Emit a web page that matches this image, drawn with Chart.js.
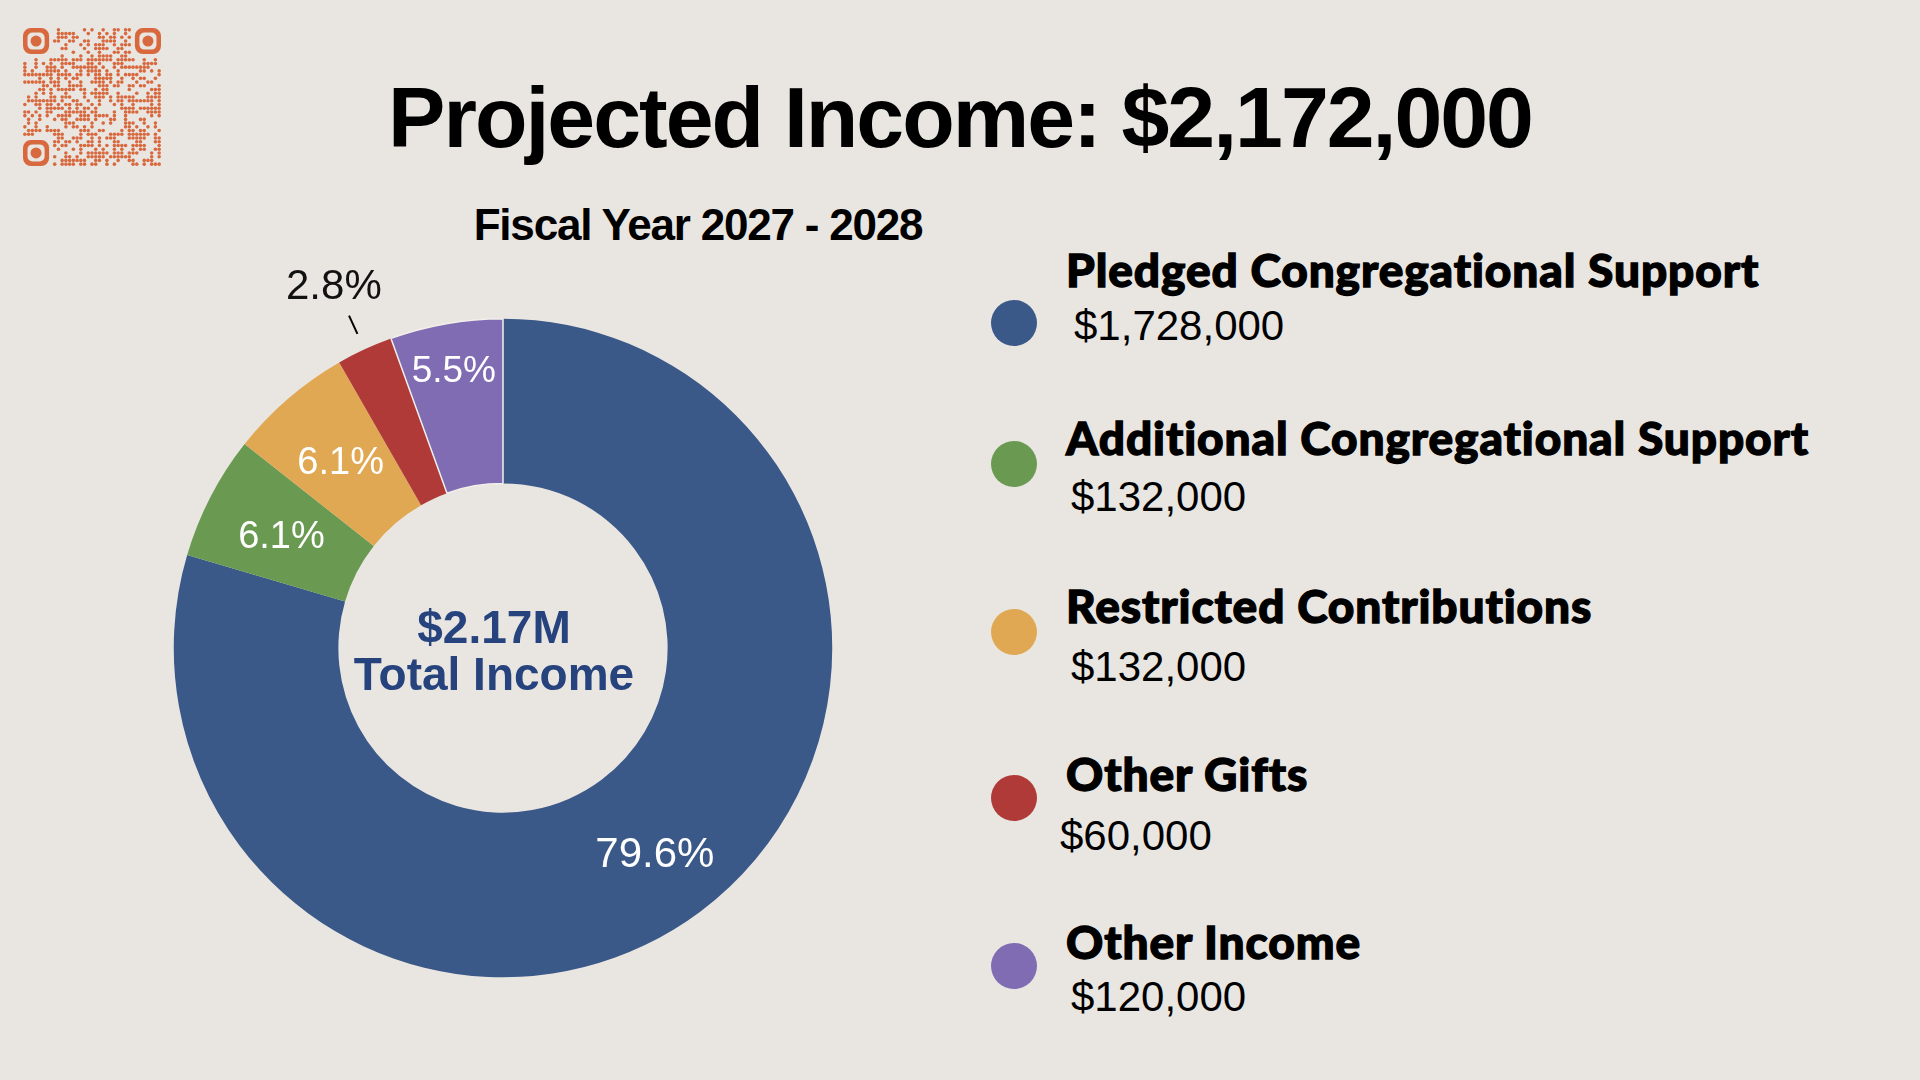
<!DOCTYPE html>
<html><head><meta charset="utf-8">
<script src="https://cdn.jsdelivr.net/npm/chart.js@4.4.1/dist/chart.umd.min.js"></script>
<style>
html,body{margin:0;padding:0;background:#e9e6e2;}
#page{position:relative;width:1920px;height:1080px;overflow:hidden;background:#e9e6e2;font-family:"Liberation Sans",Arial,sans-serif;}
.t{position:absolute;white-space:nowrap;color:#000;}
#title{left:0;width:1920px;text-align:center;top:67px;height:100px;line-height:100px;font-size:86px;font-weight:700;letter-spacing:-2px;}
#subtitle{left:448px;width:500px;text-align:center;top:200px;height:50px;line-height:50px;font-size:44px;font-weight:700;letter-spacing:-1.2px;}
#chart{position:absolute;left:53px;top:198px;}
#qr{position:absolute;left:20px;top:25px;}
.lab{font-family:"Lato","Roboto",sans-serif;font-weight:900;font-size:46px;letter-spacing:0.9px;-webkit-text-stroke:1.3px #000;height:60px;line-height:60px;}
.val{font-family:"Liberation Sans",Arial,sans-serif;font-size:42px;font-weight:400;height:60px;line-height:60px;}
.dot{position:absolute;width:46px;height:46px;border-radius:50%;}
</style></head>
<body><div id="page">
<canvas id="qr" width="145" height="145"></canvas>
<div id="title" class="t"></div>
<div id="subtitle" class="t"></div>
<canvas id="chart" width="900" height="900"></canvas>
<div id="legend"></div>
</div>
<script>
// ---- data ----
const categories = ['Pledged Congregational Support','Additional Congregational Support','Restricted Contributions','Other Gifts','Other Income'];
const values = [1728000, 132000, 132000, 60000, 120000];
const colors = ['#3a5888','#6a9a52','#e0a852','#b03a38','#806cb3'];
const titlePrefix = 'Projected Income: ';
const subtitleText = 'Fiscal Year 2027 - 2028';
const centerCaption = 'Total Income';

const total = values.reduce((a,b)=>a+b,0);
const money = v => '$' + v.toLocaleString('en-US');

document.getElementById('title').textContent = titlePrefix + money(total);
document.getElementById('subtitle').textContent = subtitleText;

// ---- legend (HTML) ----
const legend = document.getElementById('legend');
const labelX = 1066, labelY0 = 271, step = 168;
const valueDx = [8, 5, 5, -6, 5];
const valueDy = [55, 58, 60, 61, 54];
const dotDy = [52, 25, 25, 23, 23];
categories.forEach((c,i)=>{
  const y = labelY0 + i*step;
  const lab = document.createElement('div');
  lab.className = 't lab'; lab.textContent = c;
  lab.style.left = labelX + 'px'; lab.style.top = (y-31) + 'px';
  legend.appendChild(lab);
  const val = document.createElement('div');
  val.className = 't val'; val.textContent = money(values[i]);
  val.style.left = (labelX + valueDx[i]) + 'px'; val.style.top = (y + valueDy[i] - 30) + 'px';
  legend.appendChild(val);
  const d = document.createElement('div');
  d.className = 'dot'; d.style.background = colors[i];
  d.style.left = (1014-23) + 'px'; d.style.top = (y + dotDy[i] - 23) + 'px';
  legend.appendChild(d);
});

// ---- decorative QR ----
(function(){
  const c = document.getElementById('qr'), ctx = c.getContext('2d');
  const n = 37, m = 3.73, ox = 3, oy = 3;
  ctx.fillStyle = '#d8693e';
  const finder = (i,j)=> (i<8&&j<8)||(i>=n-8&&j<8)||(i<8&&j>=n-8);
  for (let i=0;i<n;i++) for (let j=0;j<n;j++){
    if (finder(i,j)) continue;
    let h = Math.imul(i+1, 92837111) ^ Math.imul(j+7, 689287499);
    h = Math.imul(h ^ (h>>>13), 1274126177); h ^= h>>>16;
    if ((h & 7) < 4){
      ctx.beginPath();
      ctx.arc(ox + i*m + m/2, oy + j*m + m/2, m*0.48, 0, Math.PI*2);
      ctx.fill();
    }
  }
  const drawFinder = (x,y)=>{
    const s = 7*m;
    ctx.beginPath();
    ctx.roundRect(x, y, s, s, 8);
    ctx.roundRect(x+4.5, y+4.5, s-9, s-9, 5);
    ctx.fill('evenodd');
    ctx.beginPath();
    ctx.arc(x+s/2, y+s/2, 5.5, 0, Math.PI*2);
    ctx.fill();
  };
  drawFinder(ox, oy);
  drawFinder(ox + (n-7)*m, oy);
  drawFinder(ox, oy + (n-7)*m);
})();

// ---- chart ----
const sliceLabels = {
  id: 'sliceLabels',
  afterDatasetsDraw(chart, args, opts){
    const ctx = chart.ctx;
    const meta = chart.getDatasetMeta(0);
    const data = chart.data.datasets[0].data;
    const sum = data.reduce((a,b)=>a+b,0);
    meta.data.forEach((arc,i)=>{
      const p = arc.getProps(['x','y','startAngle','endAngle','innerRadius','outerRadius'], true);
      const mid = (p.startAngle + p.endAngle)/2;
      const txt = (data[i]/sum*100).toFixed(1) + '%';
      const o = opts.items[i];
      ctx.save();
      ctx.font = '400 ' + o.size + 'px "Liberation Sans", Arial, sans-serif';
      ctx.textAlign = 'center'; ctx.textBaseline = 'middle';
      let r;
      if (o.outside){
        const r1 = p.outerRadius + 17, r2 = p.outerRadius + 37;
        ctx.strokeStyle = '#000'; ctx.lineWidth = 2;
        ctx.beginPath();
        ctx.moveTo(p.x + Math.cos(mid)*r1, p.y + Math.sin(mid)*r1);
        ctx.lineTo(p.x + Math.cos(mid)*r2, p.y + Math.sin(mid)*r2);
        ctx.stroke();
        r = p.outerRadius + 73;
        ctx.fillStyle = '#111';
      } else {
        r = p.innerRadius + (p.outerRadius - p.innerRadius)*o.pos;
        ctx.fillStyle = '#fff';
      }
      ctx.fillText(txt, p.x + Math.cos(mid)*r, p.y + Math.sin(mid)*r + 4);
      ctx.restore();
    });
  }
};
const centerText = {
  id: 'centerText',
  afterDatasetsDraw(chart){
    const ctx = chart.ctx;
    const arc = chart.getDatasetMeta(0).data[0];
    const sum = chart.data.datasets[0].data.reduce((a,b)=>a+b,0);
    ctx.save();
    ctx.fillStyle = '#27437e';
    ctx.font = '700 46px "Liberation Sans", Arial, sans-serif';
    ctx.textAlign = 'center'; ctx.textBaseline = 'alphabetic';
    ctx.fillText('$' + (sum/1e6).toFixed(2) + 'M', arc.x - 9, arc.y - 5);
    ctx.fillText(centerCaption, arc.x - 9, arc.y + 42);
    ctx.restore();
  }
};

new Chart(document.getElementById('chart'), {
  type: 'doughnut',
  data: {
    labels: categories,
    datasets: [{
      data: values,
      backgroundColor: colors,
      borderWidth: [0,0,0,0,1.5],
      borderColor: '#f2efea',
      hoverOffset: 0
    }]
  },
  options: {
    responsive: false,
    animation: false,
    devicePixelRatio: 1,
    cutout: '50%',
    layout: { padding: 120 },
    plugins: {
      legend: { display: false },
      tooltip: { enabled: false },
      sliceLabels: { items: [
        {pos: 0.54, size: 42},
        {pos: 0.515, size: 38},
        {pos: 0.51, size: 38},
        {outside: true, size: 42},
        {pos: 0.73, size: 37}
      ]}
    }
  },
  plugins: [sliceLabels, centerText]
});
</script>
</body></html>
